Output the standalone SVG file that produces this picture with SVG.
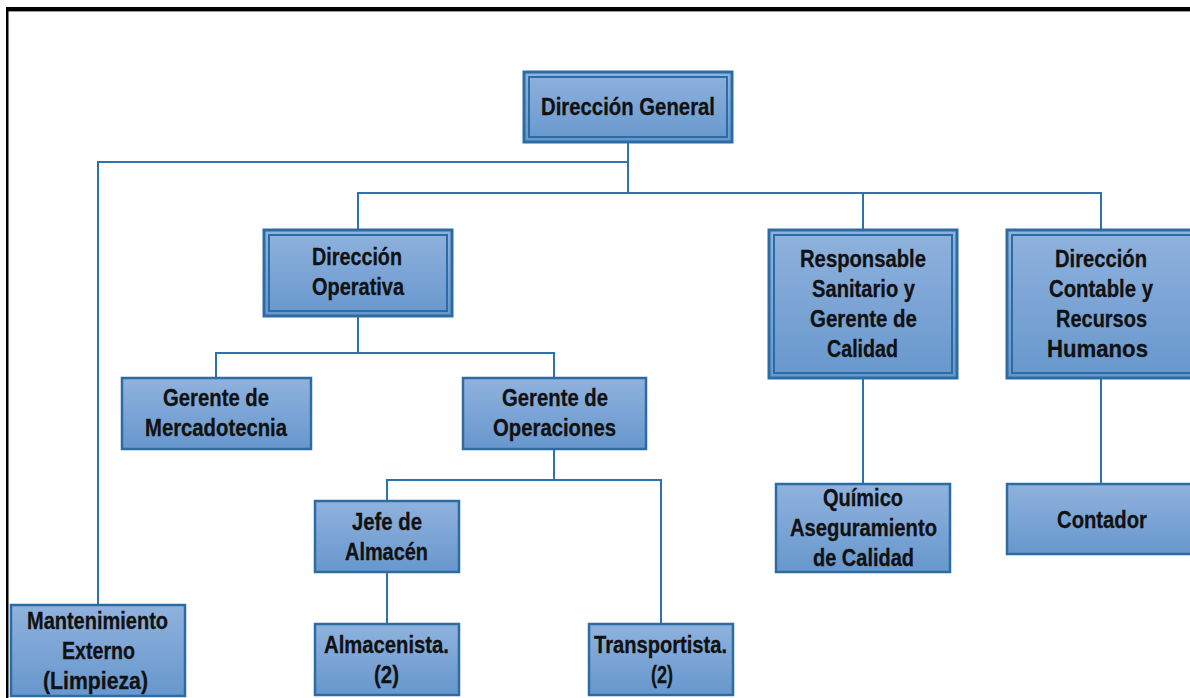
<svg xmlns="http://www.w3.org/2000/svg" width="1190" height="698" viewBox="0 0 1190 698">
  <defs>
    <linearGradient id="boxFill" x1="0" y1="0" x2="0" y2="1">
      <stop offset="0" stop-color="#90B2DD"/>
      <stop offset="1" stop-color="#6797CD"/>
    </linearGradient>
    <style>
      .box { fill: url(#boxFill); stroke: #2C6CA4; stroke-width: 2.5; }
      .outer { fill: url(#boxFill); stroke: #2C6CA4; stroke-width: 3; }
      .inner { fill: none; stroke: #2C6CA4; stroke-width: 2; }
      .link { fill: none; stroke: #2E72AD; stroke-width: 2; }
      text { font-family: "Liberation Sans", Arial, sans-serif; font-weight: bold; font-size: 24px; fill: #111; stroke: #111; stroke-width: 0.3; }
    </style>
  </defs>
  <rect width="1190" height="698" fill="#fff"/>

  <!-- page frame -->
  <g id="frame">
    <rect x="6" y="11" width="1184" height="1" fill="#999"/>
    <rect x="6" y="7" width="1184" height="4" fill="#000"/>
    <rect x="6" y="7" width="2.5" height="691" fill="#000"/>
  </g>

  <!-- connectors -->
  <g id="connectors">
    <polyline class="link" points="628,143 628,193"/>
    <polyline class="link" points="628,162 98,162 98,605"/>
    <polyline class="link" points="358,230 358,193 1101,193 1101,230"/>
    <polyline class="link" points="863,193 863,230"/>
    <polyline class="link" points="358,316 358,353"/>
    <polyline class="link" points="216,378 216,353 554,353 554,378"/>
    <polyline class="link" points="554,449 554,480"/>
    <polyline class="link" points="387,500 387,480 661,480 661,624"/>
    <polyline class="link" points="387,572 387,624"/>
    <polyline class="link" points="863,379 863,483"/>
    <polyline class="link" points="1101,379 1101,483"/>
  </g>

  <g id="direccion-general">
    <rect class="outer" x="524" y="72" width="208" height="70"/>
    <rect class="inner" x="529" y="77" width="198" height="60"/>
    <text x="541" y="115" textLength="174" lengthAdjust="spacingAndGlyphs">Dirección General</text>
  </g>

  <g id="direccion-operativa">
    <rect class="outer" x="264" y="230" width="188" height="86"/>
    <rect class="inner" x="269" y="235" width="178" height="76"/>
    <text x="312" y="265" textLength="90" lengthAdjust="spacingAndGlyphs">Dirección</text>
    <text x="312" y="295" textLength="92" lengthAdjust="spacingAndGlyphs">Operativa</text>
  </g>

  <g id="responsable-sanitario">
    <rect class="outer" x="769" y="230" width="188" height="148"/>
    <rect class="inner" x="774" y="235" width="178" height="138"/>
    <text x="800" y="267" textLength="126" lengthAdjust="spacingAndGlyphs">Responsable</text>
    <text x="812" y="297" textLength="103" lengthAdjust="spacingAndGlyphs">Sanitario y</text>
    <text x="810" y="327" textLength="107" lengthAdjust="spacingAndGlyphs">Gerente de</text>
    <text x="827" y="357" textLength="71" lengthAdjust="spacingAndGlyphs">Calidad</text>
  </g>

  <g id="direccion-contable">
    <rect class="outer" x="1007" y="230" width="200" height="148"/>
    <rect class="inner" x="1012" y="235" width="190" height="138"/>
    <text x="1055" y="267" textLength="92" lengthAdjust="spacingAndGlyphs">Dirección</text>
    <text x="1049" y="297" textLength="104" lengthAdjust="spacingAndGlyphs">Contable y</text>
    <text x="1056" y="327" textLength="91" lengthAdjust="spacingAndGlyphs">Recursos</text>
    <text x="1047" y="357" textLength="101" lengthAdjust="spacingAndGlyphs">Humanos</text>
  </g>

  <g id="gerente-mercadotecnia">
    <rect class="box" x="122" y="378" width="189" height="71"/>
    <text x="163" y="406" textLength="106" lengthAdjust="spacingAndGlyphs">Gerente de</text>
    <text x="145" y="436" textLength="142" lengthAdjust="spacingAndGlyphs">Mercadotecnia</text>
  </g>

  <g id="gerente-operaciones">
    <rect class="box" x="463" y="378" width="183" height="71"/>
    <text x="502" y="406" textLength="106" lengthAdjust="spacingAndGlyphs">Gerente de</text>
    <text x="493" y="436" textLength="123" lengthAdjust="spacingAndGlyphs">Operaciones</text>
  </g>

  <g id="jefe-almacen">
    <rect class="box" x="315" y="501" width="144" height="71"/>
    <text x="352" y="530" textLength="70" lengthAdjust="spacingAndGlyphs">Jefe de</text>
    <text x="345" y="560" textLength="83" lengthAdjust="spacingAndGlyphs">Almacén</text>
  </g>

  <g id="almacenista">
    <rect class="box" x="315" y="624" width="144" height="71"/>
    <text x="324" y="653" textLength="125" lengthAdjust="spacingAndGlyphs">Almacenista.</text>
    <text x="374" y="683" textLength="25" lengthAdjust="spacingAndGlyphs">(2)</text>
  </g>

  <g id="transportista">
    <rect class="box" x="589" y="624" width="144" height="71"/>
    <text x="594" y="653" textLength="133" lengthAdjust="spacingAndGlyphs">Transportista.</text>
    <text x="651" y="683" textLength="22" lengthAdjust="spacingAndGlyphs">(2)</text>
  </g>

  <g id="quimico">
    <rect class="box" x="776" y="484" width="174" height="88"/>
    <text x="823" y="506" textLength="80" lengthAdjust="spacingAndGlyphs">Químico</text>
    <text x="790" y="536" textLength="147" lengthAdjust="spacingAndGlyphs">Aseguramiento</text>
    <text x="813" y="566" textLength="101" lengthAdjust="spacingAndGlyphs">de Calidad</text>
  </g>

  <g id="contador">
    <rect class="box" x="1007" y="484" width="200" height="70"/>
    <text x="1057" y="528" textLength="90" lengthAdjust="spacingAndGlyphs">Contador</text>
  </g>

  <g id="mantenimiento-externo">
    <rect class="box" x="11" y="605" width="174" height="91"/>
    <text x="27" y="629" textLength="141" lengthAdjust="spacingAndGlyphs">Mantenimiento</text>
    <text x="62" y="659" textLength="73" lengthAdjust="spacingAndGlyphs">Externo</text>
    <text x="43" y="689" textLength="105" lengthAdjust="spacingAndGlyphs">(Limpieza)</text>
  </g>
</svg>
